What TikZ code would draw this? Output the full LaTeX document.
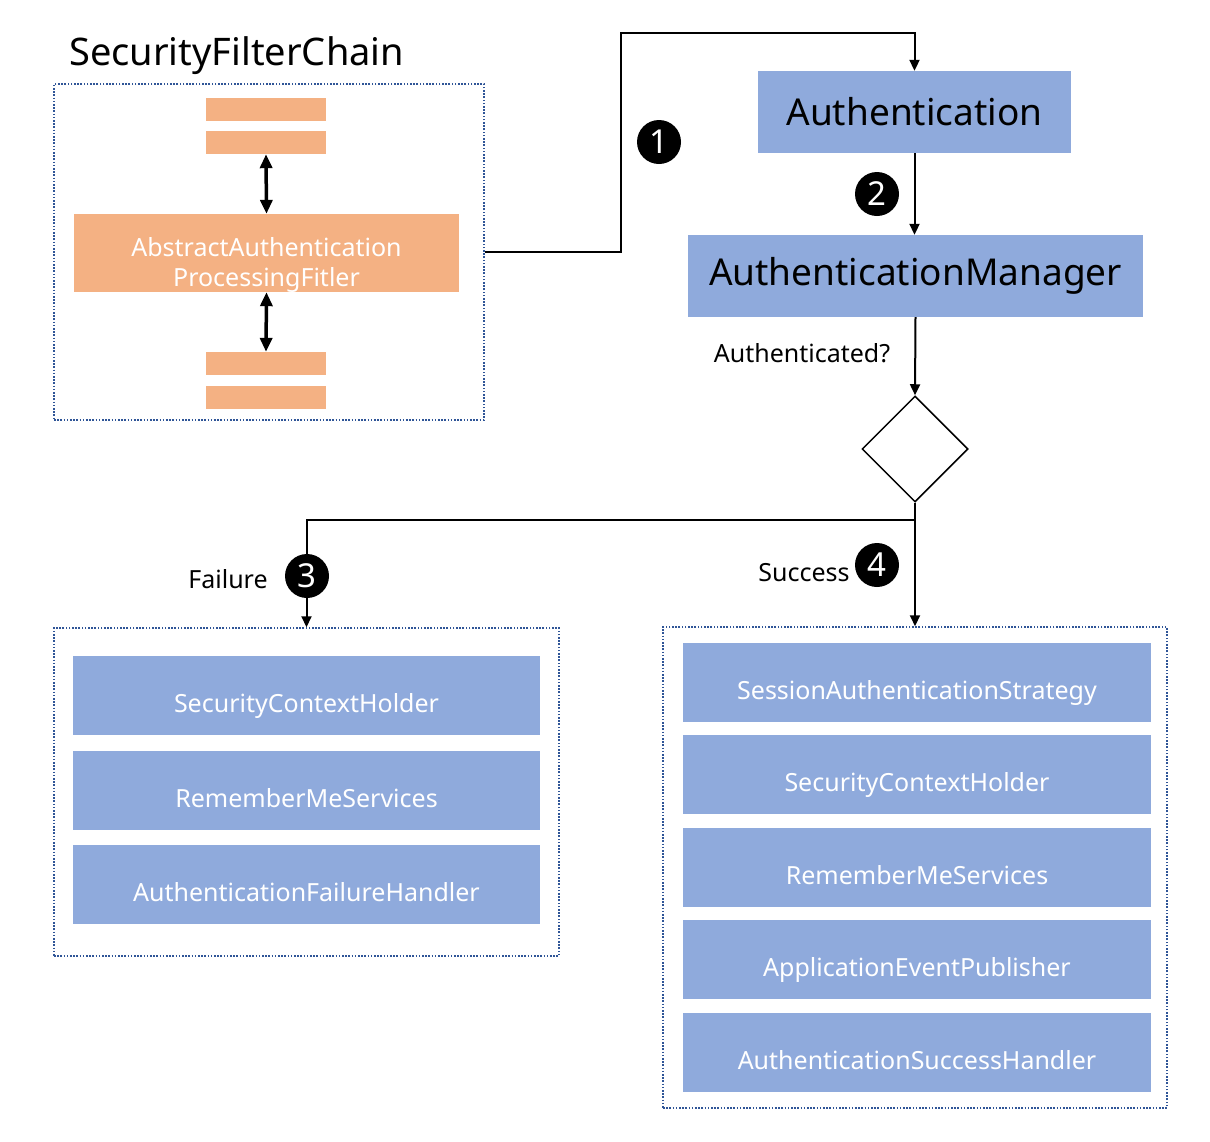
\documentclass[tikz,border=0pt]{standalone}
\usepackage{fontspec}
\setmainfont{Noto Sans}
\usetikzlibrary{shapes.geometric,arrows.meta}
\definecolor{blueb}{HTML}{8FAADC}
\definecolor{orangeb}{HTML}{F4B183}
\definecolor{dotc}{HTML}{2F5597}
\tikzset{
  dotbox/.style={draw=dotc, line width=1.5pt, dash pattern=on 1.6pt off 1.6pt, minimum width=#1, inner sep=0pt},
  obox/.style={fill=orangeb, inner sep=0pt, minimum width=120pt, minimum height=23pt},
  bluebox/.style={fill=blueb, inner sep=0pt, minimum width=#1, minimum height=79pt, text=white,
    font=\fontsize{25}{30}\selectfont, text height=34pt, text depth=0pt},
  bigblue/.style={fill=blueb, inner sep=0pt, minimum width=#1, minimum height=82pt,
    font=\fontsize{37}{44}\selectfont},
  conn/.style={line width=2pt},
  arr/.style={line width=2pt, -{Triangle[width=10pt,length=11pt]}},
  dbl/.style={line width=3.5pt, {Triangle[width=12pt,length=14pt]}-{Triangle[width=12pt,length=14pt]}},
  numc/.style={circle, fill=black, text=white, inner sep=0pt, minimum size=44pt,
    font=\fontsize{33}{33}\selectfont},
  lbl/.style={font=\fontsize{25}{30}\selectfont, inner sep=0pt},
}
\begin{document}
\begin{tikzpicture}[x=1pt,y=-1pt]
\useasboundingbox (0,0) rectangle (1210,1141);
\fill[white] (0,0) rectangle (1210,1141);

% title and filter chain
\node[font=\fontsize{38}{44}\selectfont, anchor=west, inner sep=0pt] (title) at (69,56) {SecurityFilterChain};
\node[dotbox=430pt, minimum height=336pt] (box1) at (269,252) {};
\node[obox] (f1) at (266,109) {};
\node[obox] (f2) at (266,142.5) {};
\node[fill=orangeb, inner sep=0pt, minimum width=385pt, minimum height=78pt] (aapf) at (266.5,253) {};
\node[text=white, align=center, font=\fontsize{25}{30}\selectfont, inner sep=0pt] (aapft) at (266.5,265)
  {AbstractAuthentication\\ProcessingFitler};
\node[obox] (f3) at (266,363.5) {};
\node[obox] (f4) at (266,397) {};
\draw[dbl] (f2.south) -- (aapf.north);
\draw[dbl] (aapf.south) -- (f3.north);

% authentication
\node[bigblue=313pt] (auth) at (914.5,112) {Authentication};
\node[bigblue=455pt] (am) at (915.5,276) {AuthenticationManager};
\coordinate (c1) at (621,33);
\draw[arr] (box1.east) -| (c1) -| (auth.north);
\draw[arr] (auth.south) -- (auth.south |- am.north);
\node[numc] (n1) at (659,142) {1};
\node[numc] (n2) at (877,194) {2};

% decision
\node[diamond, draw, line width=1.5pt, minimum width=106pt, minimum height=106pt, inner sep=0pt] (dia) at (915,449) {};
\draw[arr] (am.south) -- (dia.north);
\node[lbl] (q) at (802,353) {Authenticated?};

% boxes
\node[dotbox=505pt, minimum height=328pt] (box2) at (306.5,792) {};
\node[dotbox=504pt, minimum height=481pt] (box3) at (915,867.5) {};

\coordinate (split) at (915,520);
\draw[conn] (dia.south) -- (split);
\draw[arr] (split) -| (box2.north);
\draw[arr] (split) -- (box3.north);
\node[numc] (n3) at (307,576) {3};
\node[numc] (n4) at (877,565) {4};
\node[lbl] (fail) at (228,579) {Failure};
\node[lbl] (succ) at (804,573) {Success};

\node[bluebox=467pt] (l1) at (306.5,695.5) {SecurityContextHolder};
\node[bluebox=467pt] (l2) at (306.5,790.5) {RememberMeServices};
\node[bluebox=467pt] (l3) at (306.5,884.5) {AuthenticationFailureHandler};

\node[bluebox=468pt] (r1) at (917,682.5) {SessionAuthenticationStrategy};
\node[bluebox=468pt] (r2) at (917,774.5) {SecurityContextHolder};
\node[bluebox=468pt] (r3) at (917,867.5) {RememberMeServices};
\node[bluebox=468pt] (r4) at (917,959.5) {ApplicationEventPublisher};
\node[bluebox=468pt] (r5) at (917,1052.5) {AuthenticationSuccessHandler};
\end{tikzpicture}
\end{document}
